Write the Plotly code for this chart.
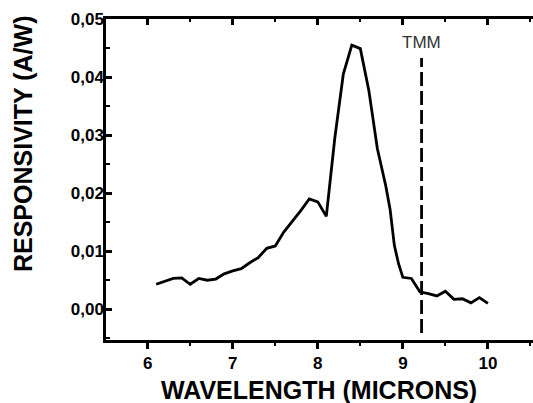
import plotly.graph_objects as go

# Data
wavelength = [6.1, 6.2, 6.3, 6.4, 6.5, 6.6, 6.7, 6.8, 6.9, 7.0,
              7.1, 7.2, 7.3, 7.4, 7.5, 7.6, 7.7, 7.8, 7.9, 8.0,
              8.1, 8.2, 8.3, 8.4, 8.5, 8.6, 8.7, 8.8, 8.85, 8.9,
              8.95, 9.0, 9.1, 9.2, 9.3, 9.4, 9.5, 9.6, 9.7, 9.8,
              9.9, 10.0]
responsivity = [0.0043, 0.0048, 0.0053, 0.0054, 0.0043, 0.0053, 0.0050, 0.0052, 0.0061, 0.0066,
                0.0070, 0.0080, 0.0089, 0.0105, 0.0109, 0.0133, 0.0151, 0.0170, 0.0190, 0.0185,
                0.0160, 0.0295, 0.0405, 0.0455, 0.0449, 0.0377, 0.0277, 0.0212, 0.0172, 0.0110,
                0.0078, 0.0055, 0.0053, 0.0030, 0.0027, 0.0023, 0.0031, 0.0017, 0.0018, 0.0011,
                0.0020, 0.0010]

x_ticks = [6, 7, 8, 9, 10]

tmm_x = 9.22
tmm_line_y = [-0.0041, 0.0433]
tmm_label_y = 0.0459
tmm_label = "TMM"

x_title = "WAVELENGTH (MICRONS)"
y_title = "RESPONSIVITY (A/W)"

FONT = "Liberation Sans, Arial, Helvetica, sans-serif"

fig = go.Figure()
fig.add_trace(go.Scatter(x=wavelength, y=responsivity, mode="lines",
                         line=dict(color="black", width=2.8), showlegend=False,
                         hoverinfo="skip"))
fig.add_trace(go.Scatter(x=[tmm_x, tmm_x], y=tmm_line_y, mode="lines",
                         line=dict(color="black", width=2.8, dash="14px,5px"),
                         showlegend=False, hoverinfo="skip"))
# invisible trace to anchor the top axis
fig.add_trace(go.Scatter(x=[wavelength[0]], y=[responsivity[0]], mode="markers",
                         marker=dict(opacity=0), xaxis="x2", showlegend=False,
                         hoverinfo="skip"))

axis_common = dict(showgrid=False, zeroline=False, showline=True, linecolor="black",
                   linewidth=2.5)

fig.update_layout(
    width=533, height=403,
    margin=dict(l=106, r=0, t=19, b=63),
    paper_bgcolor="white", plot_bgcolor="white",
    separators=",.",
    xaxis=dict(range=[5.51, 10.53], tickmode="array", tickvals=x_ticks,
               ticktext=["<b>%d</b>" % v for v in x_ticks],
               ticks="outside", ticklen=6,
               tickwidth=2.5, tickcolor="black",
               tickfont=dict(family=FONT, size=17, color="black"),
               minor=dict(dtick=0.5, tick0=5.5, ticks="outside", ticklen=3, tickwidth=2,
                          tickcolor="black"),
               **axis_common),
    xaxis2=dict(overlaying="x", side="top", matches="x", ticks="inside", ticklen=6,
                tickwidth=2.5, tickcolor="black", tick0=6, dtick=1, showticklabels=False,
                minor=dict(dtick=0.5, tick0=5.5, ticks="inside", ticklen=3, tickwidth=2,
                           tickcolor="black"),
                **axis_common),
    yaxis=dict(range=[-0.0053, 0.05], tick0=0, dtick=0.01, tickformat=".2f",
               ticks="inside", ticklen=6, tickwidth=2.5, tickcolor="black",
               ticklabelstandoff=-4,
               tickfont=dict(family=FONT, size=17, color="black", weight="bold"),
               minor=dict(dtick=0.005, ticks="inside", ticklen=4, tickwidth=2,
                          tickcolor="black"),
               **axis_common),
    annotations=[
        dict(text=tmm_label, x=tmm_x, y=tmm_label_y, xref="x", yref="y",
             showarrow=False, xanchor="center", yanchor="middle",
             font=dict(family=FONT, size=17, color="#333333")),
        dict(text=x_title, x=0.498, y=0, xref="paper", yref="paper", yshift=-50,
             showarrow=False, xanchor="center", yanchor="middle",
             font=dict(family=FONT, size=25, color="black", weight="bold")),
        dict(text=y_title, x=0, y=0.612, xref="paper", yref="paper", xshift=-83.5,
             textangle=-90, showarrow=False, xanchor="center", yanchor="middle",
             font=dict(family=FONT, size=25, color="black", weight="bold")),
    ],
)

fig.write_html("out.html", config={"displayModeBar": False},
               post_script="document.body.style.margin='0';document.body.style.overflow='hidden';")
